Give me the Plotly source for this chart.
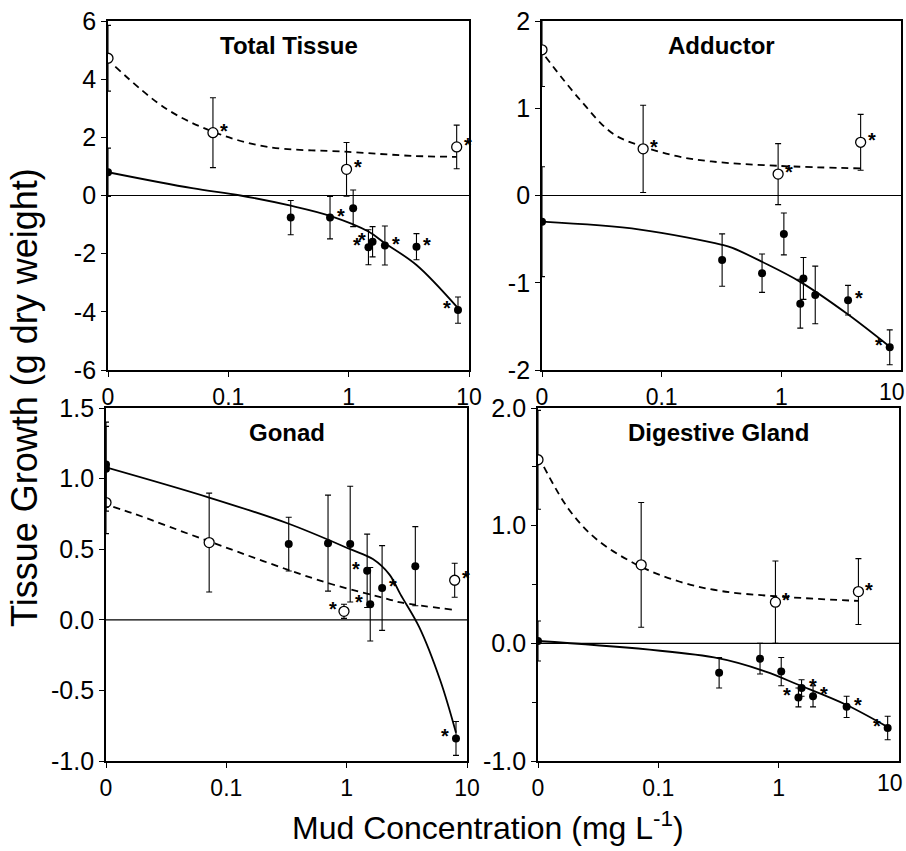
import numpy as np
import plotly.graph_objects as go

# ---------------- DATA ----------------
# Total Tissue
tt_closed_x = [0.01, 0.33, 0.70, 1.09, 1.46, 1.58, 2.0, 3.66, 8.1]
tt_closed_y = [0.80, -0.76, -0.76, -0.44, -1.78, -1.59, -1.72, -1.76, -3.94]
tt_closed_e = [0.83, 0.59, 0.73, 0.63, 0.60, 0.52, 0.67, 0.45, 0.45]
tt_closed_s = ["", "", "R", "", "L", "L", "R", "R", "L"]
tt_open_x = [0.01, 0.0745, 0.96, 7.9]
tt_open_y = [4.72, 2.16, 0.90, 1.67]
tt_open_e = [1.13, 1.20, 0.92, 0.75]
tt_open_s = ["", "R", "R", "R"]
tt_solid_x = [0.01, 0.05, 0.126, 0.33, 0.70, 1.46, 2.0, 3.66, 8.0]
tt_solid_y = [0.80, 0.25, 0.0, -0.35, -0.70, -1.24, -1.64, -2.39, -3.85]
tt_dash_x = [0.0115, 0.03, 0.075, 0.206, 1.0, 3.5, 7.9]
tt_dash_y = [4.43, 3.0, 2.19, 1.68, 1.50, 1.36, 1.33]

# Adductor
ad_closed_x = [0.01, 0.32, 0.69, 1.05, 1.44, 1.53, 1.92, 3.61, 8.05]
ad_closed_y = [-0.30, -0.74, -0.89, -0.44, -1.24, -0.95, -1.14, -1.20, -1.74]
ad_closed_e = [0.63, 0.30, 0.22, 0.24, 0.28, 0.24, 0.33, 0.17, 0.20]
ad_closed_s = ["", "", "", "", "", "", "", "R", "L"]
ad_open_x = [0.01, 0.07, 0.94, 4.6]
ad_open_y = [1.67, 0.535, 0.245, 0.61]
ad_open_e = [0.42, 0.50, 0.35, 0.32]
ad_open_s = ["", "R", "R", "R"]
ad_solid_x = [0.01, 0.066, 0.32, 0.39, 0.69, 1.44, 3.5, 8.0]
ad_solid_y = [-0.30, -0.39, -0.565, -0.60, -0.76, -0.99, -1.35, -1.73]
ad_dash_x = [0.0107, 0.0207, 0.039, 0.07, 0.135, 0.26, 0.94, 4.6]
ad_dash_y = [1.59, 1.10, 0.71, 0.56, 0.45, 0.39, 0.34, 0.31]

# Gonad
go_closed_x = [0.01, 0.01, 0.33, 0.70, 1.07, 1.48, 1.57, 1.97, 3.72, 8.1]
go_closed_y = [1.10, 1.07, 0.536, 0.543, 0.536, 0.347, 0.11, 0.225, 0.38, -0.84]
go_closed_e = [0.30, 0.30, 0.19, 0.34, 0.41, 0.26, 0.26, 0.30, 0.28, 0.12]
go_closed_s = ["", "", "", "", "", "L", "L", "R", "", "L"]
go_open_x = [0.01, 0.072, 0.95, 7.9]
go_open_y = [0.83, 0.547, 0.06, 0.28]
go_open_e = [0.22, 0.35, 0.05, 0.12]
go_open_s = ["", "", "L", "R"]
go_solid_x = [0.01, 0.072, 0.33, 1.07, 1.65, 2.27, 2.8, 4.0, 6.0, 8.1]
go_solid_y = [1.08, 0.866, 0.68, 0.50, 0.43, 0.32, 0.18, -0.05, -0.43, -0.80]
go_dash_x = [0.0115, 0.0173, 0.072, 0.67, 2.2, 2.8, 7.9]
go_dash_y = [0.80, 0.75, 0.555, 0.265, 0.147, 0.123, 0.07]

# Digestive Gland
dg_closed_x = [0.01, 0.32, 0.70, 1.05, 1.46, 1.55, 1.93, 3.67, 8.05]
dg_closed_y = [0.02, -0.25, -0.13, -0.24, -0.46, -0.38, -0.45, -0.54, -0.72]
dg_closed_e = [0.17, 0.13, 0.13, 0.12, 0.08, 0.07, 0.09, 0.09, 0.10]
dg_closed_s = ["", "", "", "", "L", "R", "R", "R", "L"]
dg_open_x = [0.01, 0.072, 0.94, 4.6]
dg_open_y = [1.56, 0.667, 0.35, 0.44]
dg_open_e = [0.42, 0.53, 0.35, 0.28]
dg_open_s = ["", "", "R", "R"]
dg_solid_x = [0.01, 0.29, 0.78, 1.44, 3.6, 8.0]
dg_solid_y = [0.02, -0.12, -0.24, -0.35, -0.52, -0.71]
dg_dash_x = [0.0112, 0.018, 0.031, 0.072, 0.155, 0.33, 0.94, 4.6]
dg_dash_y = [1.50, 1.14, 0.88, 0.65, 0.52, 0.445, 0.40, 0.36]

titles = ["Total Tissue", "Adductor", "Gonad", "Digestive Gland"]
x_tickvals = [0.01, 0.1, 1, 10]
x_ticktext = ["0", "0.1", "1", "10"]

# ---------------- FIGURE ----------------
panels = [
    dict(cx=tt_closed_x, cy=tt_closed_y, ce=tt_closed_e, cs=tt_closed_s,
         ox=tt_open_x, oy=tt_open_y, oe=tt_open_e, os=tt_open_s,
         sx=tt_solid_x, sy=tt_solid_y, dx=tt_dash_x, dy=tt_dash_y),
    dict(cx=ad_closed_x, cy=ad_closed_y, ce=ad_closed_e, cs=ad_closed_s,
         ox=ad_open_x, oy=ad_open_y, oe=ad_open_e, os=ad_open_s,
         sx=ad_solid_x, sy=ad_solid_y, dx=ad_dash_x, dy=ad_dash_y),
    dict(cx=go_closed_x, cy=go_closed_y, ce=go_closed_e, cs=go_closed_s,
         ox=go_open_x, oy=go_open_y, oe=go_open_e, os=go_open_s,
         sx=go_solid_x, sy=go_solid_y, dx=go_dash_x, dy=go_dash_y),
    dict(cx=dg_closed_x, cy=dg_closed_y, ce=dg_closed_e, cs=dg_closed_s,
         ox=dg_open_x, oy=dg_open_y, oe=dg_open_e, os=dg_open_s,
         sx=dg_solid_x, sy=dg_solid_y, dx=dg_dash_x, dy=dg_dash_y),
]

W, H = 906, 851
FONT = "Liberation Sans, Arial, sans-serif"
XTICK_SIZE = 23
# pixel boxes (left, right, top, bottom)
boxes = [(108, 469, 21, 370), (542, 901, 21, 370),
         (106, 467, 408, 761), (538, 899, 408, 761)]

fig = go.Figure()
annotations = []
shapes = []

for i, p in enumerate(panels):
    sfx = "" if i == 0 else str(i + 1)
    xa, ya = "x" + sfx, "y" + sfx
    fig.add_trace(go.Scatter(x=p["dx"], y=p["dy"], mode="lines", xaxis=xa, yaxis=ya,
                             line=dict(color="black", width=1.8, dash="7px,5px", shape="spline"),
                             showlegend=False, hoverinfo="skip"))
    fig.add_trace(go.Scatter(x=p["sx"], y=p["sy"], mode="lines", xaxis=xa, yaxis=ya,
                             line=dict(color="black", width=1.8, shape="spline"),
                             showlegend=False, hoverinfo="skip"))
    fig.add_trace(go.Scatter(x=p["ox"], y=p["oy"], mode="markers", xaxis=xa, yaxis=ya,
                             marker=dict(symbol="circle", size=10, color="white",
                                         line=dict(color="black", width=1.3)),
                             error_y=dict(type="data", array=p["oe"], color="black",
                                          thickness=1.1, width=3),
                             showlegend=False))
    fig.add_trace(go.Scatter(x=p["cx"], y=p["cy"], mode="markers", xaxis=xa, yaxis=ya,
                             marker=dict(symbol="circle", size=8, color="black"),
                             error_y=dict(type="data", array=p["ce"], color="black",
                                          thickness=1.1, width=3),
                             showlegend=False))
    for xs, ys, ss in ((p["ox"], p["oy"], p["os"]), (p["cx"], p["cy"], p["cs"])):
        for xv, yv, sv in zip(xs, ys, ss):
            if sv:
                annotations.append(dict(x=np.log10(xv), y=yv, xref=xa, yref=ya,
                                        text="<b>*</b>", showarrow=False,
                                        xshift=11 if sv == "R" else -11, yshift=2,
                                        font=dict(size=20, color="black", family=FONT)))
    l, r, t, b = boxes[i]
    annotations.append(dict(x=(l + r) / 2 / W, y=1 - (t + 24) / H, xref="paper", yref="paper",
                            xanchor="center", yanchor="middle",
                            text="<b>%s</b>" % titles[i], showarrow=False,
                            font=dict(size=24, color="black", family=FONT)))
    shapes.append(dict(type="line", xref=xa + " domain", yref=ya, x0=0, x1=1, y0=0, y1=0,
                       line=dict(color="black", width=1.2)))
    # right-hand panels: last x label pulled inward so it stays inside the page
    if i in (1, 3):
        annotations.append(dict(x=np.log10(x_tickvals[-1]), y=0, xref=xa, yref=ya + " domain",
                                xanchor="right", yanchor="top", xshift=6, yshift=-7,
                                text=x_ticktext[-1], showarrow=False,
                                font=dict(size=XTICK_SIZE, color="black", family=FONT)))

y_specs = [
    dict(range=[-6, 6], tickvals=[-6, -4, -2, 0, 2, 4, 6],
         ticktext=["-6", "-4", "-2", "0", "2", "4", "6"]),
    dict(range=[-2, 2], tickvals=[-2, -1, 0, 1, 2],
         ticktext=["-2", "-1", "0", "1", "2"]),
    dict(range=[-1, 1.5], tickvals=[-1, -0.5, 0, 0.5, 1, 1.5],
         ticktext=["-1.0", "-0.5", "0.0", "0.5", "1.0", "1.5"]),
    dict(range=[-1, 2], tickvals=[-1, 0, 1, 2],
         ticktext=["-1.0", "0.0", "1.0", "2.0"], minor=dict(dtick=0.5, ticks="outside", ticklen=4,
                                                            tickcolor="black")),
]

layout = dict(width=W, height=H, margin=dict(l=0, r=0, t=0, b=0, autoexpand=False),
              paper_bgcolor="white", plot_bgcolor="white", showlegend=False)

for i in range(4):
    sfx = "" if i == 0 else str(i + 1)
    l, r, t, b = boxes[i]
    common = dict(showline=True, linecolor="black", linewidth=1.8, mirror=True,
                  ticks="outside", ticklen=5, tickcolor="black", tickwidth=1.3,
                  showgrid=False, zeroline=False, automargin=False,
                  ticklabeloverflow="allow")
    if i in (0, 2):
        xv, xt = list(x_tickvals), list(x_ticktext)
    else:
        xv, xt = x_tickvals[:-1], x_ticktext[:-1]
    layout["xaxis" + sfx] = dict(type="log", range=[-2, 1], domain=[l / W, r / W],
                                 anchor="y" + sfx, tickvals=xv, ticktext=xt,
                                 tickfont=dict(size=XTICK_SIZE, color="black", family=FONT),
                                 **common)
    ys = y_specs[i]
    layout["yaxis" + sfx] = dict(range=ys["range"], domain=[1 - b / H, 1 - t / H],
                                 anchor="x" + sfx, tickvals=ys["tickvals"], ticktext=ys["ticktext"],
                                 tickfont=dict(size=25, color="black", family=FONT),
                                 **common, **({"minor": ys["minor"]} if "minor" in ys else {}))

annotations.append(dict(x=488 / W, y=1 - 826 / H, xref="paper", yref="paper",
                        xanchor="center", yanchor="middle",
                        text="Mud Concentration (mg L<sup>-1</sup>)", showarrow=False,
                        font=dict(size=32, color="black", family=FONT)))
annotations.append(dict(x=24 / W, y=1 - 398 / H, xref="paper", yref="paper",
                        xanchor="center", yanchor="middle",
                        text="Tissue Growth (g dry weight)", showarrow=False, textangle=-90,
                        font=dict(size=36, color="black", family=FONT)))

layout["annotations"] = annotations
layout["shapes"] = shapes
fig.update_layout(**layout)
fig.write_html("out.html")
